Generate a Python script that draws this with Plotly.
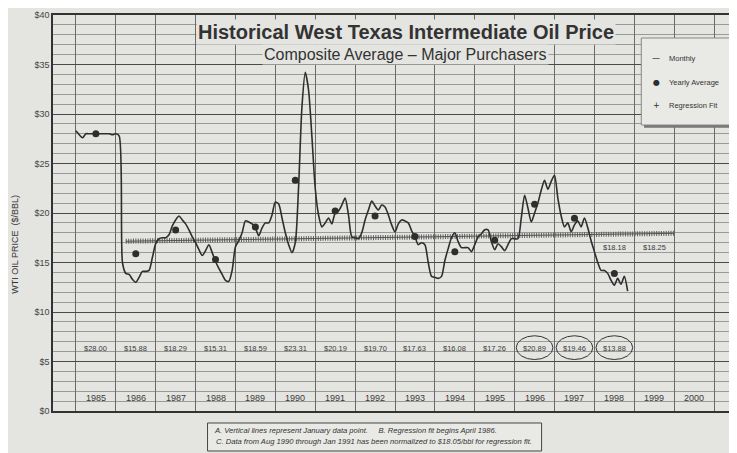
import plotly.graph_objects as go

# ---------------- data ----------------
start_year = 1985
monthly_price = [
    # 1985
    28.3, 27.9, 27.6, 28.0, 28.0, 28.0, 28.0, 28.0, 28.0, 28.0, 28.0, 27.9,
    # 1986
    28.0, 27.8, 15.0, 13.9, 13.8, 13.3, 13.0, 13.5, 14.1, 14.1, 14.2, 15.5,
    # 1987
    16.9, 17.4, 17.5, 17.5, 17.8, 18.7, 19.3, 19.7, 19.3, 18.9, 18.3, 17.6,
    # 1988
    17.0, 16.3, 15.7, 16.2, 16.8, 16.0, 15.1, 14.4, 13.8, 13.2, 13.1, 14.2,
    # 1989
    16.6, 17.2, 18.0, 19.2, 19.1, 18.9, 18.5, 17.7, 18.5, 19.0, 19.0, 19.8,
    # 1990
    21.1, 20.9, 19.5, 18.0, 16.8, 16.0, 17.0, 22.7, 30.7, 34.2, 32.4, 27.7,
    # 1991
    22.5, 19.8, 18.6, 19.0, 19.5, 18.9, 20.0, 20.2, 20.8, 21.5, 19.8, 17.6,
    # 1992
    17.5, 17.4, 18.0, 19.3, 20.3, 21.2, 20.7, 20.3, 20.8, 20.6, 19.8, 18.8,
    # 1993
    18.1, 18.9, 19.3, 19.2, 19.0, 18.2, 17.6, 16.8, 17.0, 16.8, 15.0, 13.6,
    # 1994
    13.5, 13.4, 13.6, 15.2, 16.4, 17.5, 18.0, 17.1, 16.5, 16.5, 16.5, 16.1,
    # 1995
    16.8, 17.6, 17.9, 18.3, 18.3, 17.1, 16.3, 16.9, 16.6, 16.2, 16.8, 17.4,
    # 1996
    17.4, 17.4, 19.5, 21.8, 20.5, 19.1, 20.0, 21.0, 22.3, 23.3, 22.4, 23.2,
    # 1997
    23.8, 21.5, 19.7, 18.6, 19.0, 18.1, 18.8, 19.2, 18.6, 19.5, 18.5, 17.2,
    # 1998
    16.1, 15.0, 14.2, 14.2, 13.9, 13.2, 12.7, 13.4, 12.8, 13.6, 12.1,
]

years = [1985, 1986, 1987, 1988, 1989, 1990, 1991, 1992, 1993, 1994,
         1995, 1996, 1997, 1998]
yearly_avg = [28.00, 15.88, 18.29, 15.31, 18.59, 23.31, 20.19, 19.70, 17.63,
              16.08, 17.26, 20.89, 19.46, 13.88]
yearly_labels = ["$28.00", "$15.88", "$18.29", "$15.31", "$18.59", "$23.31",
                 "$20.19", "$19.70", "$17.63", "$16.08", "$17.26", "$20.89",
                 "$19.46", "$13.88"]
circled_years = [1996, 1997, 1998]

axis_years = [1985, 1986, 1987, 1988, 1989, 1990, 1991, 1992, 1993, 1994,
              1995, 1996, 1997, 1998, 1999, 2000]

reg_x = [1986.25, 2000.0]          # Apr 1986 -> end of 1999
reg_y = [17.15, 17.95]
reg_label_years = [1998, 1999]
reg_label_values = ["$18.18", "$18.25"]

y_ticks = [0, 5, 10, 15, 20, 25, 30, 35, 40]
y_ticktext = ["$0", "$5", "$10", "$15", "$20", "$25", "$30", "$35", "$40"]

# ---------------- derived ----------------
month_x = [start_year + i / 12 for i in range(len(monthly_price))]
year_mid = [y + 0.5 for y in years]

BG = "#e4e4e1"
INK = "#2e2e2e"
NARROW = "Liberation Sans Narrow, Arial Narrow, Liberation Sans, Arial"

fig = go.Figure()

# regression fit: hatched band (thick short dashes) + thin core line
fig.add_trace(go.Scatter(x=reg_x, y=reg_y, mode="lines",
                         line=dict(color="#5e5e5e", width=5, dash="1px,1.4px"),
                         hoverinfo="skip", showlegend=False))
fig.add_trace(go.Scatter(x=reg_x, y=reg_y, mode="lines",
                         line=dict(color="#555", width=1),
                         name="Regression Fit", showlegend=False))

# monthly line
fig.add_trace(go.Scatter(x=month_x, y=monthly_price, mode="lines",
                         line=dict(color=INK, width=1.6, shape="spline",
                                   smoothing=0.7),
                         name="Monthly", showlegend=False))

# yearly averages
fig.add_trace(go.Scatter(x=year_mid, y=yearly_avg, mode="markers",
                         marker=dict(color=INK, size=7),
                         name="Yearly Average", showlegend=False))

annotations = []
for ym, lab in zip(year_mid, yearly_labels):
    annotations.append(dict(x=ym, y=6.35, xref="x", yref="y", text=lab,
                            showarrow=False,
                            font=dict(family=NARROW, size=7.5, color="#3a3a3a")))
for y in axis_years:
    annotations.append(dict(x=y + 0.5, y=1.3, xref="x", yref="y", text=str(y),
                            showarrow=False,
                            font=dict(family=NARROW, size=9, color="#3a3a3a")))
for y, lab in zip(reg_label_years, reg_label_values):
    annotations.append(dict(x=y + 0.5, y=16.55, xref="x", yref="y", text=lab,
                            showarrow=False,
                            font=dict(family=NARROW, size=7.5, color="#3a3a3a")))

# title & subtitle
annotations.append(dict(x=0.5175, y=0.957, xref="paper", yref="paper",
                        xanchor="center", yanchor="middle",
                        text="<b>Historical West Texas Intermediate Oil Price</b>",
                        showarrow=False, bgcolor=BG, borderpad=1,
                        font=dict(family="Liberation Sans, Arial", size=20,
                                  color="#333")))
annotations.append(dict(x=0.5175, y=0.899, xref="paper", yref="paper",
                        xanchor="center", yanchor="middle",
                        text="Composite Average \u2013 Major Purchasers",
                        showarrow=False, bgcolor=BG, borderpad=1,
                        font=dict(family="Liberation Sans, Arial", size=16,
                                  color="#333")))

# y-axis title
annotations.append(dict(x=-0.0556, y=0.42, xref="paper", yref="paper",
                        xanchor="center", yanchor="middle",
                        text="WTI OIL PRICE  ($/BBL)", textangle=-90,
                        showarrow=False,
                        font=dict(family="Liberation Sans, Arial", size=9,
                                  color="#333")))

# custom legend
leg_x0, leg_x1, leg_y0, leg_y1 = 0.8626, 0.9927, 0.7222, 0.9419
legend_items = [("\u2014", "Monthly", 0.8914), ("\u25CF", "Yearly Average", 0.8308),
                ("+", "Regression Fit", 0.7727)]
for sym, lab, yy in legend_items:
    annotations.append(dict(x=0.8845, y=yy, xref="paper", yref="paper",
                            xanchor="center", yanchor="middle",
                            text=sym, showarrow=False,
                            font=dict(family="DejaVu Sans", size=8, color=INK)))
    annotations.append(dict(x=0.9000, y=yy, xref="paper", yref="paper",
                            xanchor="left", yanchor="middle",
                            text=lab, showarrow=False,
                            font=dict(family=NARROW, size=7.5, color="#333")))

# footnote
annotations.append(dict(x=0.4442, y=-0.048, xref="paper", yref="paper",
                        xanchor="center", yanchor="middle",
                        text="<i>A. Vertical lines represent January data point.&nbsp;&nbsp;&nbsp;&nbsp;&nbsp;B. Regression fit begins April 1986.</i>",
                        showarrow=False,
                        font=dict(family=NARROW, size=7.6, color="#333")))
annotations.append(dict(x=0.4708, y=-0.076, xref="paper", yref="paper",
                        xanchor="center", yanchor="middle",
                        text="<i>C. Data from Aug 1990 through Jan 1991 has been normalized to $18.05/bbl for regression fit.</i>",
                        showarrow=False,
                        font=dict(family=NARROW, size=7.6, color="#333")))

shapes = []
shapes.append(dict(type="rect", xref="paper", yref="paper",
                   x0=leg_x0 + 0.004, x1=leg_x1 + 0.004,
                   y0=leg_y0 - 0.007, y1=leg_y1 - 0.007,
                   fillcolor="#777", line=dict(width=0), layer="above"))
shapes.append(dict(type="rect", xref="paper", yref="paper",
                   x0=leg_x0, x1=leg_x1, y0=leg_y0, y1=leg_y1,
                   fillcolor="#e9e9e6", line=dict(color="#888", width=1),
                   layer="above"))
shapes.append(dict(type="rect", xref="paper", yref="paper",
                   x0=0.2266, x1=0.7164, y0=-0.1010, y1=-0.0303,
                   fillcolor="#e9e9e6", line=dict(color="#444", width=1),
                   layer="below"))
for y in circled_years:
    shapes.append(dict(type="circle", xref="x", yref="y",
                       x0=y + 0.04, x1=y + 0.96, y0=5.2, y1=7.6,
                       line=dict(color="#333", width=1)))

# The page body has an 8px margin, so the figure is sized/placed to compensate.
fig.update_layout(
    width=729, height=445,
    margin=dict(l=45, r=0, t=7, b=42),
    paper_bgcolor=BG, plot_bgcolor=BG,
    showlegend=False,
    annotations=annotations, shapes=shapes,
    xaxis=dict(range=[1984.425, 2001.525], tick0=1985, dtick=1,
               showgrid=True, gridcolor="#6a6a6a", gridwidth=1,
               showticklabels=False, ticks="", zeroline=False,
               showline=True, linecolor="#333", linewidth=1.5, mirror=True),
    yaxis=dict(range=[0, 40], tickvals=y_ticks, ticktext=y_ticktext,
               showgrid=True, gridcolor="#4a4a4a", gridwidth=1.2,
               minor=dict(dtick=1, tick0=0, showgrid=True,
                          gridcolor="#9a9a98", gridwidth=0.8),
               tickfont=dict(family=NARROW, size=9, color="#444"),
               ticks="", zeroline=False,
               showline=True, linecolor="#333", linewidth=1.5, mirror=True),
)

fig.write_html("out.html")
